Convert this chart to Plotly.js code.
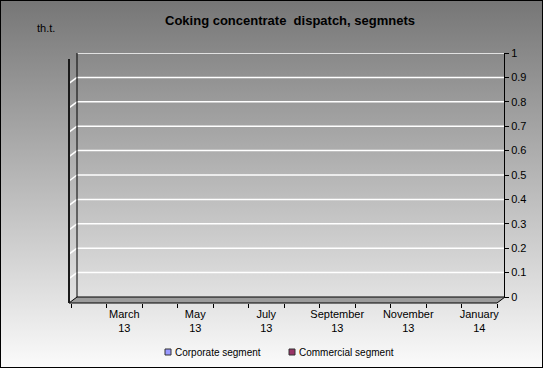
<!DOCTYPE html>
<html>
<head>
<meta charset="utf-8">
<script src="https://cdn.plot.ly/plotly-3.0.1.min.js"></script>
<style>
html,body{margin:0;padding:0;}
#chart{width:543px;height:368px;background:linear-gradient(to bottom,#767676 0%,#fbfbfb 100%);box-shadow:inset 0 0 0 1px #000;}
</style>
</head>
<body>
<div id="chart"></div>
<script>
// ---- data ----
var months = ['February 13','March 13','April 13','May 13','June 13','July 13',
              'August 13','September 13','October 13','November 13','December 13','January 14'];
var monthLabels = ['','March<br>13','','May<br>13','','July<br>13',
                   '','September<br>13','','November<br>13','','January<br>14'];
var corporate = [0,0,0,0,0,0,0,0,0,0,0,0];
var commercial = [0,0,0,0,0,0,0,0,0,0,0,0];
var seriesNames = ['Corporate segment','Commercial segment'];
var seriesColors = ['#9999ff','#993366'];
var yTicks = [0,0.1,0.2,0.3,0.4,0.5,0.6,0.7,0.8,0.9,1];

// ---- geometry helpers (pixel -> paper) ----
var W = 543, H = 368;
function px(x){return x/W;}
function py(y){return 1 - y/H;}
var FONT = 'Liberation Sans, Arial, sans-serif';

var traces = [
  {type:'bar', name:seriesNames[0], x:months, y:corporate, showlegend:false,
   marker:{color:seriesColors[0], line:{width:0}}},
  {type:'bar', name:seriesNames[1], x:months, y:commercial, showlegend:false,
   marker:{color:seriesColors[1], line:{width:0}}}
];

var shapes = [];
// floor slab
shapes.push({type:'path', xref:'paper', yref:'paper', layer:'below',
  path:'M'+px(77)+','+py(297)+' L'+px(505)+','+py(297)+' L'+px(497)+','+py(303)+' L'+px(69)+','+py(303)+' Z',
  fillcolor:'#9c9c9c', line:{color:'#000', width:1}});
// back wall gridlines + side diagonals
yTicks.forEach(function(v){
  if (v === 0) return;
  shapes.push({type:'line', xref:'paper', yref:'y', x0:px(77), x1:px(504), y0:v, y1:v,
    line:{color:'#ffffff', width:1.5}, layer:'below'});
  shapes.push({type:'line', xref:'paper', yref:'y', ysizemode:'pixel', yanchor:v,
    x0:px(69), x1:px(77), y0:-6, y1:0,
    line:{color: v === 1 ? '#8a8a8a' : '#ffffff', width:1.5}, layer:'below'});
});
// back wall left edge
shapes.push({type:'line', xref:'paper', yref:'paper', x0:px(77), x1:px(77), y0:py(53), y1:py(297),
  line:{color:'#000', width:1}});
// front left edge
shapes.push({type:'line', xref:'paper', yref:'paper', x0:px(69), x1:px(69), y0:py(59), y1:py(303),
  line:{color:'#1a1a1a', width:2}});

// legend (symbol squares + names), built from series arrays
var legendX = [168, 292], legendY = 352;
var annotations = [{text:'th.t.', xref:'paper', yref:'paper', x:px(46), y:py(28),
    xanchor:'center', yanchor:'middle', showarrow:false,
    font:{family:FONT, size:11, color:'#000'}}];
seriesNames.forEach(function(name, i){
  shapes.push({type:'rect', xref:'paper', yref:'paper',
    x0:px(legendX[i]-3), x1:px(legendX[i]+3), y0:py(legendY+3), y1:py(legendY-3),
    fillcolor:seriesColors[i], line:{color:'#333', width:1}});
  annotations.push({text:name, xref:'paper', yref:'paper', x:px(legendX[i]+5), y:py(legendY),
    xanchor:'left', yanchor:'middle', showarrow:false,
    font:{family:FONT, size:10, color:'#000'}});
});

var layout = {
  width:W, height:H,
  margin:{l:0, r:0, t:0, b:0},
  paper_bgcolor:'rgba(0,0,0,0)',
  plot_bgcolor:'rgba(0,0,0,0)',
  font:{family:FONT, size:11, color:'#000'},
  title:{text:'<b>Coking concentrate \u00a0dispatch, segmnets</b>',
    font:{family:FONT, size:13, color:'#000'},
    x:px(290), xanchor:'center', xref:'paper', y:py(20), yanchor:'middle', yref:'container'},
  barmode:'group',
  showlegend:false,
  xaxis:{type:'category', categoryorder:'array', categoryarray:months,
    domain:[px(71), px(497)], anchor:'free', position:py(303),
    range:[-0.5, 11.5], fixedrange:true,
    tickmode:'array', tickvals:months, ticktext:monthLabels, tickangle:0,
    tickson:'boundaries', ticks:'outside', ticklen:4, tickcolor:'#000', tickwidth:1,
    ticklabelstandoff:3,
    showline:false, showgrid:false, zeroline:false,
    tickfont:{family:FONT, size:11, color:'#000'}, automargin:false},
  yaxis:{range:[0,1], domain:[py(297), py(53)], anchor:'free', position:px(504), side:'right',
    tickmode:'array', tickvals:yTicks, ticks:'outside', ticklen:4, tickcolor:'#000',
    showline:true, linecolor:'#000', linewidth:1, showgrid:false, zeroline:false,
    fixedrange:true, tickfont:{family:FONT, size:11, color:'#000'}, automargin:false},
  shapes:shapes,
  annotations:annotations
};

Plotly.newPlot('chart', traces, layout, {displayModeBar:false, staticPlot:true});
</script>
</body>
</html>
